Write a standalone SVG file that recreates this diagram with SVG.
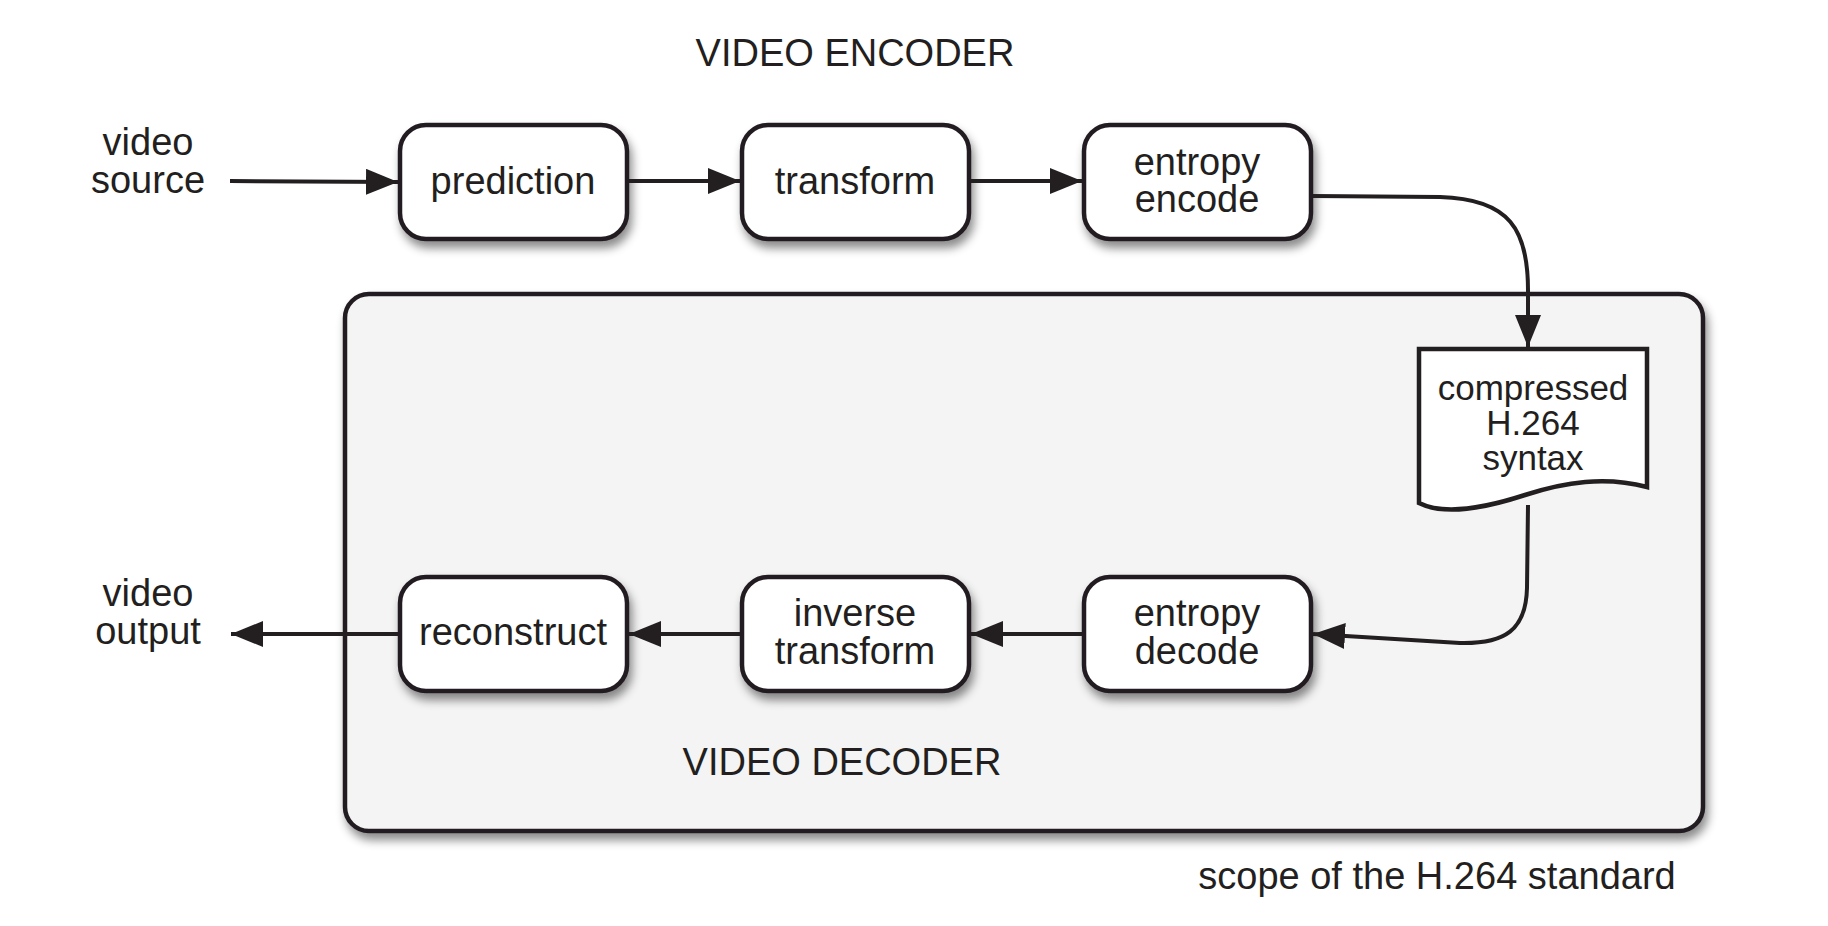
<svg xmlns="http://www.w3.org/2000/svg" width="1828" height="926" viewBox="0 0 1828 926">
<defs>
<style>
.t{font-family:"Liberation Sans",Arial,sans-serif;font-size:38px;fill:#231f20;text-anchor:middle}
.s{font-size:35px}
.b{fill:#fff;stroke:#231f20;stroke-width:4.5}
.c{fill:none;stroke:#231f20;stroke-width:4}
</style>
<filter id="sh" x="-20%" y="-20%" width="150%" height="160%">
<feDropShadow dx="3" dy="7" stdDeviation="5" flood-color="#000" flood-opacity="0.45"/>
</filter>
<marker id="ah" markerUnits="userSpaceOnUse" markerWidth="34" markerHeight="26" refX="32" refY="13" orient="auto">
<path d="M0,0 L32,13 L0,26 z" fill="#231f20"/>
</marker>
</defs>
<rect width="1828" height="926" fill="#fff"/>
<g id="decoder-scope">
<rect x="345" y="294" width="1358" height="537" rx="24" fill="#f3f4f3" stroke="#231f20" stroke-width="4.5" filter="url(#sh)"/>
<text class="t" x="842" y="775">VIDEO DECODER</text>
</g>
<text class="t" x="855" y="66">VIDEO ENCODER</text>
<text class="t" x="1437" y="889">scope of the H.264 standard</text>
<g id="video-source"><text class="t" x="148" y="155">video</text><text class="t" x="148" y="193">source</text></g>
<g id="video-output"><text class="t" x="148" y="606">video</text><text class="t" x="148" y="644">output</text></g>
<g id="prediction"><rect class="b" x="400" y="125" width="227" height="114" rx="26" filter="url(#sh)"/><text class="t" x="513" y="194">prediction</text></g>
<g id="transform"><rect class="b" x="742" y="125" width="227" height="114" rx="26" filter="url(#sh)"/><text class="t" x="855" y="194">transform</text></g>
<g id="entropy-encode"><rect class="b" x="1084" y="125" width="227" height="114" rx="26" filter="url(#sh)"/><text class="t" x="1197" y="175">entropy</text><text class="t" x="1197" y="212">encode</text></g>
<g id="compressed"><path class="b" d="M1419,349 L1647,349 L1647,487 C1605,476 1565,482 1525,495 C1485,508 1445,516 1419,503 Z"/>
<text class="t s" x="1533" y="400">compressed</text><text class="t s" x="1533" y="435">H.264</text><text class="t s" x="1533" y="470">syntax</text></g>
<g id="entropy-decode"><rect class="b" x="1084" y="577" width="227" height="114" rx="26" filter="url(#sh)"/><text class="t" x="1197" y="626">entropy</text><text class="t" x="1197" y="664">decode</text></g>
<g id="inverse-transform"><rect class="b" x="742" y="577" width="227" height="114" rx="26" filter="url(#sh)"/><text class="t" x="855" y="626">inverse</text><text class="t" x="855" y="664">transform</text></g>
<g id="reconstruct"><rect class="b" x="400" y="577" width="227" height="114" rx="26" filter="url(#sh)"/><text class="t" x="513" y="645">reconstruct</text></g>
<g id="connectors">
<path class="c" d="M230,181 L398,182" marker-end="url(#ah)"/>
<path class="c" d="M629,181 L740,181" marker-end="url(#ah)"/>
<path class="c" d="M971,181 L1082,181" marker-end="url(#ah)"/>
<path class="c" d="M1313,196 L1440,197 C1510,199 1528,230 1528,290 L1528,347" marker-end="url(#ah)"/>
<path class="c" d="M1528,505 L1527,588 C1526,630 1505,644 1460,643 L1313,634" marker-end="url(#ah)"/>
<path class="c" d="M1082,634 L971,634" marker-end="url(#ah)"/>
<path class="c" d="M740,634 L629,634" marker-end="url(#ah)"/>
<path class="c" d="M398,634 L231,634" marker-end="url(#ah)"/>
</g>
</svg>
